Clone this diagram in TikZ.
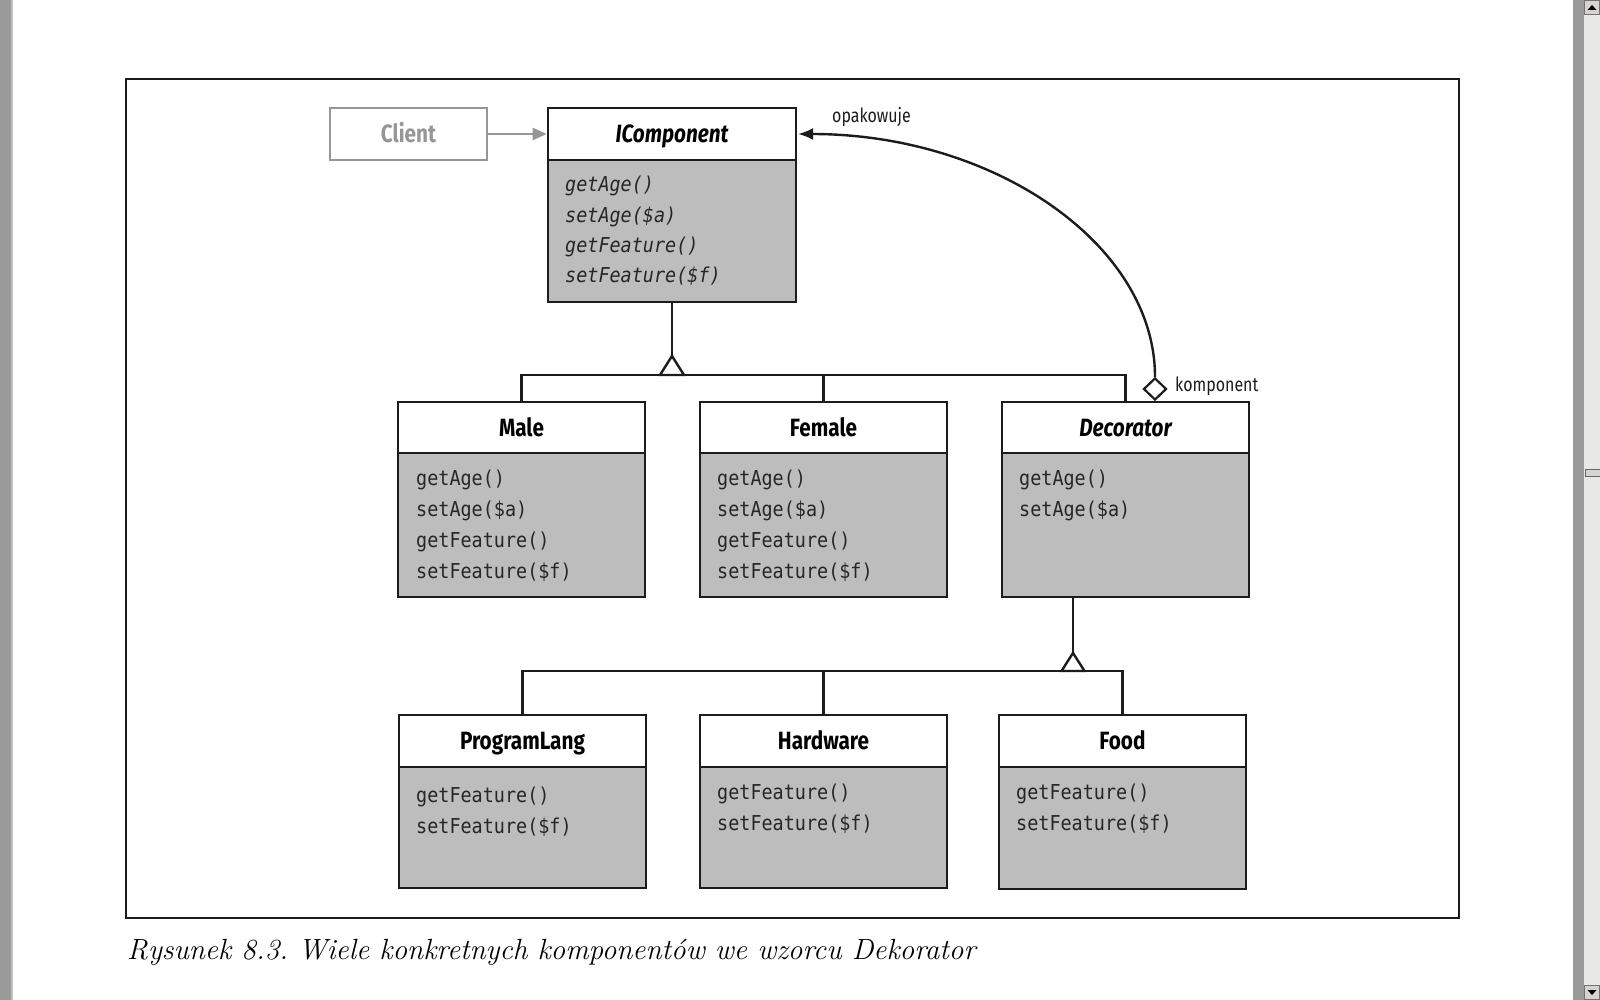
\documentclass[tikz,border=0pt]{standalone}
\usepackage{fontspec}
\usetikzlibrary{arrows.meta,shapes.geometric,calc}
\newfontfamily\titlefont[FakeStretch=0.83]{Fira Sans}
\newfontfamily\methfont[FakeStretch=0.9]{DejaVu Sans Mono}
\newfontfamily\labelfont[FakeStretch=0.82]{Fira Sans}
\definecolor{boxgray}{RGB}{189,189,189}
\definecolor{lc}{RGB}{28,28,28}
\definecolor{mc}{RGB}{38,38,38}
\definecolor{clientgray}{RGB}{150,150,150}
\definecolor{stripgray}{RGB}{153,153,153}
\definecolor{track}{RGB}{232,232,228}
\definecolor{btn}{RGB}{214,212,206}
\begin{document}
\begin{tikzpicture}[x=1pt,y=-1pt,
  cls/.style={draw=lc, line width=2.6pt, fill=boxgray, minimum width=247pt, inner sep=0pt, outer sep=0pt, anchor=north west},
  hdr/.style={draw=lc, line width=2.6pt, fill=white, minimum width=247pt, minimum height=51pt, inner sep=0pt, outer sep=0pt,
    anchor=north west, text height=17pt, text depth=0pt, text=black,
    font=\titlefont\bfseries\fontsize{25}{29}\selectfont},
  meth/.style={anchor=north west, align=left, inner sep=0pt, text=mc,
    font=\methfont\fontsize{20.5}{30.8}\selectfont},
  methi/.style={meth, font=\methfont\itshape\fontsize{20.5}{30.3}\selectfont},
  conn/.style={draw=lc, line width=2.4pt},
  gen/.style={draw=lc, line width=2.4pt, fill=white, line join=miter},
  lbl/.style={font=\labelfont\fontsize{19.5}{22}\selectfont, text=lc, inner sep=0pt, anchor=west}
]
\useasboundingbox (0,0) rectangle (1600,1000);
\fill[white] (0,0) rectangle (1600,1000);
% window chrome
\fill[stripgray] (0,0) rectangle (11,1000);
\fill[black!25] (11,0) rectangle (12.5,1000);
\fill[stripgray] (1573,0) rectangle (1584,1000);
\fill[track] (1584,0) rectangle (1600,1000);
\draw[black!55, fill=btn, line width=1pt] (1584.5,0.5) rectangle (1599.5,14.5);
\fill[black] (1587.5,10) -- (1596.5,10) -- (1592,5) -- cycle;
\draw[black!55, fill=btn, line width=1pt] (1584.5,985.5) rectangle (1599.5,999.5);
\fill[black] (1587.5,990) -- (1596.5,990) -- (1592,995) -- cycle;
\draw[black!60, fill=btn, line width=1pt] (1585,469) rectangle (1600,476);
% frame
\draw[lc, line width=2pt] (126,79) rectangle (1459,918);

% Client
\node[draw=clientgray, line width=2pt, minimum width=157pt, minimum height=52pt, inner sep=0pt,
  text=clientgray, font=\titlefont\bfseries\fontsize{25}{29}\selectfont, text height=17pt, text depth=0pt]
  (client) at (408.5,134) {Client};

% IComponent
\node[cls, minimum width=248pt, minimum height=194pt] (icomp) at (548,108) {};
\node[hdr, minimum width=248pt, minimum height=52pt] (icomph) at (548,108) {\itshape IComponent};
\node[methi] (icompm) at (565,176) {getAge()\\setAge(\$a)\\getFeature()\\setFeature(\$f)};

% Male
\node[cls, minimum height=195pt] (male) at (398,402) {};
\node[hdr] (maleh) at (398,402) {Male};
\node[meth] (malem) at (416,470) {getAge()\\setAge(\$a)\\getFeature()\\setFeature(\$f)};

% Female
\node[cls, minimum height=195pt] (fem) at (700,402) {};
\node[hdr] (femh) at (700,402) {Female};
\node[meth] (femm) at (717,470) {getAge()\\setAge(\$a)\\getFeature()\\setFeature(\$f)};

% Decorator
\node[cls, minimum height=195pt] (dec) at (1002,402) {};
\node[hdr] (dech) at (1002,402) {\itshape Decorator};
\node[meth] (decm) at (1019,470) {getAge()\\setAge(\$a)};

% ProgramLang
\node[cls, minimum height=173pt] (prog) at (399,715) {};
\node[hdr, minimum height=52pt] (progh) at (399,715) {ProgramLang};
\node[meth] (progm) at (416,787) {getFeature()\\setFeature(\$f)};

% Hardware
\node[cls, minimum height=173pt] (hard) at (700,715) {};
\node[hdr, minimum height=52pt] (hardh) at (700,715) {Hardware};
\node[meth] (hardm) at (717,784) {getFeature()\\setFeature(\$f)};

% Food
\node[cls, minimum height=174pt] (food) at (999,715) {};
\node[hdr, minimum height=52pt] (foodh) at (999,715) {Food};
\node[meth] (foodm) at (1016,784) {getFeature()\\setFeature(\$f)};

% Client -> IComponent
\draw[draw=clientgray, line width=2.2pt, -{Triangle[length=14pt,width=12pt,fill=clientgray]}]
  (client.east) -- ($(icomph.west)+(-1.3,0)$);

% generalization 1
\coordinate (g1) at (672,375);
\draw[conn] (male.north) |- (g1) -| (dec.north);
\draw[conn] (fem.north) -- (fem.north |- g1);
\draw[conn] (icomp.south) -- ($(g1)+(0,-19)$);
\draw[gen] (g1) -- ++(-12,0) -- ++(12,-19) -- ++(12,19) -- cycle;

% generalization 2
\coordinate (g2) at (1073,671);
\draw[conn] (prog.north) |- (g2) -| (food.north);
\draw[conn] (hard.north) -- (hard.north |- g2);
\draw[conn] (g2 |- dec.south) -- ($(g2)+(0,-18)$);
\draw[gen] (g2) -- ++(-11.5,0) -- ++(11.5,-18) -- ++(11.5,18) -- cycle;

% aggregation
\node[draw=lc, line width=2.2pt, fill=white, diamond, minimum width=23pt, minimum height=22pt, inner sep=0pt]
  (dia) at (1155,389) {};
\draw[conn, -{Latex[length=15pt,width=12pt]}] (dia.north) .. controls (1155,245) and (995,134) .. ($(icomph.east)+(2,0)$);
\node[lbl] (lwrap) at (832,117) {opakowuje};
\node[lbl] (lcomp) at (1175,386) {komponent};

% caption
\node[anchor=base west, inner sep=0pt, font=\itshape\fontsize{29.2}{33}\selectfont] (cap) at (127,959)
  {\frenchspacing Rysunek 8.3. Wiele konkretnych komponentów we wzorcu Dekorator};
\end{tikzpicture}
\end{document}
